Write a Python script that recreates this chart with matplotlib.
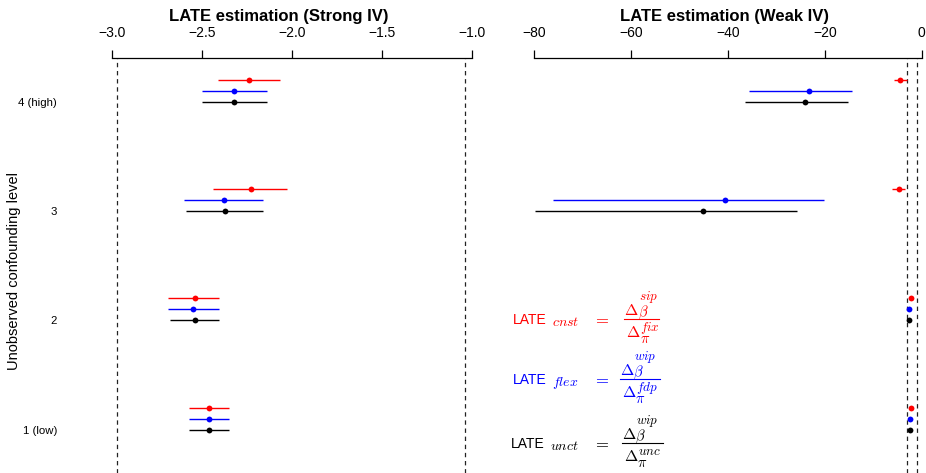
import matplotlib
matplotlib.use('Agg')
import matplotlib.pyplot as plt
from matplotlib.lines import Line2D

plt.rcParams['font.family'] = ['Liberation Sans', 'DejaVu Sans']
plt.rcParams['mathtext.fontset'] = 'cm'

# confounding levels, bottom to top
levels = [1, 2, 3, 4]
level_labels = ['1 (low)', '2', '3', '4 (high)']

# strong IV: estimate, lower and upper bound
strong_cnst_est = [-2.458, -2.537, -2.228, -2.237]
strong_cnst_lo = [-2.569, -2.689, -2.439, -2.408]
strong_cnst_hi = [-2.347, -2.406, -2.028, -2.065]
strong_flex_est = [-2.458, -2.550, -2.378, -2.319]
strong_flex_lo = [-2.569, -2.689, -2.598, -2.500]
strong_flex_hi = [-2.347, -2.406, -2.158, -2.139]
strong_unct_est = [-2.458, -2.537, -2.369, -2.319]
strong_unct_lo = [-2.569, -2.678, -2.589, -2.500]
strong_unct_hi = [-2.347, -2.406, -2.158, -2.139]

# weak IV
weak_cnst_est = [-2.20, -2.27, -4.75, -4.38]
weak_cnst_lo = [-2.45, -2.52, -6.20, -5.72]
weak_cnst_hi = [-1.95, -2.02, -3.43, -3.10]
weak_flex_est = [-2.42, -2.56, -40.6, -23.3]
weak_flex_lo = [-2.67, -2.81, -76.1, -35.6]
weak_flex_hi = [-2.17, -2.31, -20.1, -14.46]
weak_unct_est = [-2.50, -2.56, -45.1, -24.1]
weak_unct_lo = [-2.75, -2.81, -79.8, -36.5]
weak_unct_hi = [-2.25, -2.31, -25.8, -15.3]

ref_lines = [-2.97, -1.04]

strong_ticks = [-3.0, -2.5, -2.0, -1.5, -1.0]
weak_ticks = [-80, -60, -40, -20, 0]

# formula legend: subscript, numerator and denominator scripts
f_sub = ['cnst', 'flex', 'unct']
f_num = [('sip', r'\beta'), ('wip', r'\beta'), ('wip', r'\beta')]
f_den = [('fix', r'\pi'), ('fdp', r'\pi'), ('unc', r'\pi')]
f_colors = ['#FF0000', '#0000FF', 'black']

W, H = 926, 473
fig = plt.figure(figsize=(W / 100, H / 100), dpi=100)


def fx(px):
    return px / W


def fy(py):
    return 1 - py / H


top = fy(58.3)
ax1 = fig.add_axes([fx(80), 0, 400 / W, top])
ax2 = fig.add_axes([fx(500), 0, 426 / W, top])
ax1.set_xlim(-3.1761, -0.9539)
ax2.set_xlim(-87.08, 0.888)

series = [('#FF0000', 0.2), ('#0000FF', 0.1), ('black', 0.0)]
strong = [(strong_cnst_est, strong_cnst_lo, strong_cnst_hi),
          (strong_flex_est, strong_flex_lo, strong_flex_hi),
          (strong_unct_est, strong_unct_lo, strong_unct_hi)]
weak = [(weak_cnst_est, weak_cnst_lo, weak_cnst_hi),
        (weak_flex_est, weak_flex_lo, weak_flex_hi),
        (weak_unct_est, weak_unct_lo, weak_unct_hi)]

for ax, data, ticks in [(ax1, strong, strong_ticks), (ax2, weak, weak_ticks)]:
    ax.set_ylim(0.6046, 4.396)
    for v in ref_lines:
        ax.axvline(v, color='#222222', lw=0.9, ls=(0, (3.5, 3)))
    for (clr, off), (est, lo, hi) in zip(series, data):
        y = [l + off for l in levels]
        ax.hlines(y, lo, hi, color=clr, lw=1.0)
        ax.plot(est, y, 'o', color=clr, ms=4.2, mew=0)
    for s in ['left', 'right', 'bottom']:
        ax.spines[s].set_visible(False)
    ax.spines['top'].set_bounds(ticks[0], ticks[-1])
    ax.spines['top'].set_linewidth(0.9)
    ax.xaxis.tick_top()
    ax.set_xticks(ticks)
    ax.tick_params(axis='x', length=6, width=0.9, pad=7, labelsize=10)
    ax.patch.set_visible(False)

ax1.set_yticks(levels, level_labels)
ax1.tick_params(axis='y', length=0, pad=16.5, labelsize=8.2)
ax2.set_yticks([])

fig.text(fx(279), fy(16), 'LATE estimation (Strong IV)', ha='center',
         va='center', fontsize=12, fontweight='bold')
fig.text(fx(725), fy(16), 'LATE estimation (Weak IV)', ha='center',
         va='center', fontsize=12, fontweight='bold')
fig.text(fx(14), fy(271.5), 'Unobserved confounding level', rotation=90,
         ha='center', va='center', fontsize=10.5)


def put(x, y, s, clr, size):
    fig.text(fx(x), fy(y), s, color=clr, fontsize=size, ha='left', va='baseline')


# formulas, drawn piece by piece (pixel positions)
bar_y = [319.3, 379.3, 443.3]
late_x = [512.5, 512.5, 510.5]
bar_x = [(624, 659), (619.5, 659.5), (621.5, 662.5)]
for i in range(3):
    clr = f_colors[i]
    yb = bar_y[i]
    x0, x1 = bar_x[i]
    put(late_x[i], yb + 5, 'LATE', clr, 10)
    put(late_x[i] + 40, yb + 7, '$' + f_sub[i] + '$', clr, 10)
    fig.text(fx(601), fy(yb + 4.2), '$=$', color=clr, fontsize=12,
             ha='center', va='baseline')
    # numerator
    sup, sub = f_num[i]
    put(x0 + 0.5, yb - 4, r'$\Delta$', clr, 11.5)
    put(x0 + 15, yb - 19, '$' + sup + '$', clr, 9.5)
    put(x0 + 13.5, yb - 3.5, '$' + sub + '$', clr, 10.5)
    # denominator
    sup, sub = f_den[i]
    put(x0 + 2.5, yb + 17.5, r'$\Delta$', clr, 11.5)
    put(x0 + 16.5, yb + 11.5, '$' + sup + '$', clr, 9.5)
    put(x0 + 15.5, yb + 23.5, '$' + sub + '$', clr, 10.5)
    fig.add_artist(Line2D([fx(x0), fx(x1)], [fy(yb), fy(yb)], color=clr, lw=0.8,
                          transform=fig.transFigure))

fig.savefig('out.png', dpi=100)
